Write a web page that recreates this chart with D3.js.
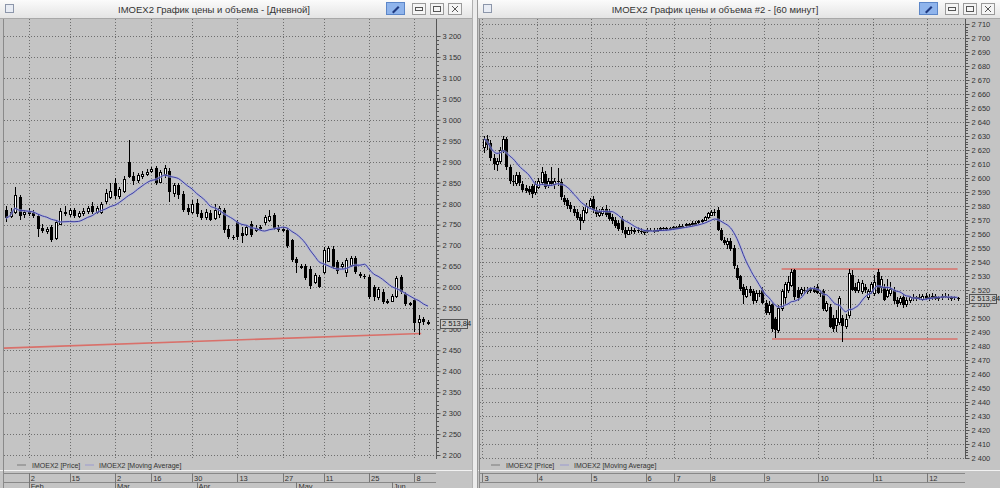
<!DOCTYPE html>
<html>
<head>
<meta charset="utf-8">
<script src="https://cdn.jsdelivr.net/npm/d3@7"></script>
<style>
body { margin: 0; background: #c4c4c4; }
svg { display: block; font-family: "Liberation Sans", Arial, sans-serif; }
</style>
</head>
<body>
<svg width="1000" height="488"></svg>
<script>
// ---- daily panel: [open, high, low, close]
const dailyCandles = [
  [2785,2795,2755,2765],[2770,2790,2765,2780],[2780,2840,2775,2820],[2815,2820,2760,2770],
  [2775,2785,2765,2780],[2780,2790,2770,2775],[2778,2785,2765,2770],[2770,2775,2720,2740],
  [2742,2752,2730,2735],[2735,2745,2728,2740],[2745,2750,2708,2715],[2718,2760,2712,2755],
  [2752,2790,2748,2782],[2780,2795,2770,2775],[2775,2790,2768,2785],[2785,2790,2765,2770],
  [2770,2783,2765,2778],[2778,2790,2770,2782],[2782,2795,2775,2790],[2795,2805,2775,2780],
  [2780,2795,2775,2790],[2780,2805,2775,2800],[2805,2835,2800,2825],[2815,2850,2810,2830],
  [2850,2862,2812,2818],[2818,2840,2812,2835],[2830,2865,2825,2858],[2900,2952,2860,2865],
  [2865,2875,2845,2852],[2855,2872,2850,2868],[2865,2878,2858,2870],[2870,2882,2865,2875],
  [2878,2888,2872,2882],[2885,2890,2845,2850],[2852,2880,2848,2875],[2870,2892,2862,2885],
  [2878,2885,2805,2828],[2825,2850,2815,2845],[2845,2850,2812,2820],[2822,2830,2780,2785],
  [2790,2800,2772,2780],[2780,2808,2775,2800],[2802,2810,2768,2775],[2778,2785,2760,2765],
  [2768,2788,2762,2780],[2778,2785,2758,2762],[2765,2800,2760,2785],[2775,2795,2765,2790],
  [2785,2790,2730,2738],[2740,2748,2715,2722],[2720,2725,2712,2718],[2755,2760,2712,2720],
  [2730,2745,2705,2722],[2728,2750,2722,2745],[2752,2758,2720,2725],[2738,2748,2732,2742],
  [2742,2750,2738,2745],[2755,2772,2750,2768],[2760,2785,2755,2770],[2772,2778,2738,2742],
  [2742,2748,2732,2738],[2738,2745,2732,2740],[2738,2742,2695,2700],[2712,2715,2660,2665],
  [2668,2672,2635,2658],[2648,2655,2645,2650],[2650,2655,2618,2622],[2645,2650,2595,2605],
  [2613,2635,2608,2630],[2625,2630,2598,2602],[2638,2697,2632,2690],[2665,2700,2660,2695],
  [2692,2698,2645,2650],[2660,2665,2632,2638],[2650,2660,2645,2655],[2637,2670,2625,2665],
  [2653,2675,2648,2670],[2670,2675,2632,2637],[2632,2636,2622,2628],[2628,2632,2620,2625],
  [2625,2630,2572,2577],[2600,2605,2568,2575],[2575,2600,2570,2595],[2590,2595,2560,2565],
  [2565,2572,2560,2568],[2568,2585,2565,2580],[2578,2628,2575,2622],[2625,2630,2585,2590],
  [2585,2590,2555,2560],[2560,2566,2555,2562],[2570,2575,2493,2515],[2518,2535,2486,2525],
  [2525,2530,2510,2518],[2518,2522,2510,2513.84]
];
const dailyDayIdx = [5, 14, 24, 32, 41, 51, 61, 70, 80, 90];
const dailyDayLabels = ["2", "15", "2", "16", "30", "13", "27", "11", "25", "8"];
const dailyMonthIdx = [5, 24, 42, 64, 85];
const dailyMonthLabels = ["Feb", "Mar", "Apr", "May", "Jun"];
const dailyPriceTicks = [2200,2250,2300,2350,2400,2450,2500,2550,2600,2650,2700,
  2750,2800,2850,2900,2950,3000,3050,3100,3150,3200];
const dailyTrend = [[-0.5, 2455], [91.5, 2490]];

// ---- hourly panel: [open, high, low, close]
const hourlyCandles = [
  // 3
  [2622,2630,2618,2628],[2628,2631,2620,2624],[2625,2627,2612,2614],[2614,2617,2606,2610],
  [2610,2614,2605,2612],[2612,2622,2610,2620],[2620,2630,2618,2628],[2628,2629,2606,2608],
  [2608,2609,2596,2598],[2598,2602,2594,2597],[2596,2604,2594,2602],[2602,2604,2594,2596],
  [2596,2598,2590,2592],[2593,2595,2589,2591],[2592,2594,2588,2590],[2594,2596,2586,2588],
  [2590,2598,2588,2596],
  // 4
  [2594,2600,2592,2598],[2597,2608,2595,2604],[2603,2605,2592,2594],[2595,2600,2593,2598],
  [2598,2608,2594,2596],[2596,2600,2592,2598],[2598,2607,2594,2597],[2597,2599,2584,2586],
  [2586,2588,2581,2583],[2584,2586,2578,2580],[2581,2583,2576,2578],[2578,2580,2573,2575],
  [2576,2578,2570,2572],[2572,2574,2563,2569],[2570,2579,2568,2577],[2576,2582,2574,2580],
  [2580,2586,2578,2584],
  // 5
  [2585,2587,2575,2577],[2577,2579,2572,2574],[2574,2578,2572,2576],[2575,2579,2573,2578],
  [2578,2581,2572,2574],[2576,2578,2569,2571],[2572,2574,2567,2569],[2570,2572,2564,2566],
  [2568,2570,2562,2564],[2571,2573,2561,2563],[2563,2565,2557,2560],[2560,2565,2559,2563],
  [2563,2565,2560,2562],[2562,2564,2560,2563],[2563,2565,2561,2562],[2562,2564,2560,2561],
  [2561,2563,2559,2562],
  // 6
  [2562,2564,2561,2563],[2563,2564,2562,2562],[2562,2564,2561,2563],[2563,2564,2562,2563],
  [2563,2565,2562,2564],[2564,2565,2562,2563],[2563,2565,2562,2564],[2564,2565,2563,2564],
  [2564,2566,2563,2565],
  // 7
  [2565,2566,2564,2565],[2565,2567,2564,2566],[2566,2567,2565,2566],[2566,2568,2565,2567],
  [2567,2568,2566,2567],[2567,2569,2566,2568],[2568,2569,2567,2568],[2568,2570,2567,2569],
  [2569,2571,2568,2570],[2570,2573,2569,2572],[2572,2576,2571,2575],
  // 8
  [2574,2577,2573,2576],[2576,2578,2573,2575],[2577,2579,2562,2563],[2563,2564,2555,2556],
  [2556,2558,2552,2554],[2553,2557,2549,2555],[2555,2557,2548,2549],[2550,2552,2535,2537],
  [2536,2538,2527,2529],[2530,2531,2519,2521],[2522,2524,2510,2516],[2516,2523,2514,2521],
  [2521,2523,2516,2518],[2519,2521,2510,2512],[2513,2520,2511,2518],[2518,2520,2515,2517],
  [2520,2522,2510,2511],
  // 9
  [2511,2513,2502,2504],[2504,2512,2502,2509],[2510,2511,2490,2492],[2499,2501,2486,2491],
  [2491,2509,2489,2507],[2507,2521,2505,2519],[2515,2526,2510,2524],[2520,2530,2518,2526],
  [2524,2535,2522,2533],[2534,2535,2513,2515],[2520,2522,2512,2514],[2518,2522,2516,2521],
  [2520,2522,2518,2519],[2519,2522,2517,2520],[2520,2522,2518,2521],[2521,2523,2518,2519],
  [2522,2524,2517,2518],
  // 10
  [2518,2520,2515,2517],[2519,2521,2505,2506],[2506,2512,2504,2511],[2508,2510,2493,2494],
  [2500,2502,2490,2492],[2495,2506,2490,2500],[2497,2516,2495,2514],[2500,2502,2483,2494],
  [2494,2503,2492,2499],[2502,2535,2500,2532],[2531,2534,2519,2520],[2522,2525,2518,2519],
  [2520,2528,2518,2526],[2519,2527,2517,2525],[2522,2524,2518,2520],[2515,2521,2513,2519],
  [2519,2526,2517,2524],
  // 11
  [2518,2531,2516,2526],[2533,2535,2517,2518],[2522,2530,2518,2528],[2522,2524,2512,2513],
  [2516,2528,2514,2520],[2518,2526,2516,2521],[2520,2522,2510,2512],[2513,2515,2508,2510],
  [2511,2516,2509,2514],[2515,2517,2507,2509],[2510,2515,2508,2513],[2513,2516,2511,2515],
  [2515,2517,2512,2514],[2514,2516,2512,2515],[2515,2517,2513,2514],[2514,2517,2512,2516],
  [2516,2518,2513,2514],
  // 12
  [2514,2517,2512,2515],[2515,2518,2513,2516],[2516,2517,2513,2514],[2514,2516,2512,2515],
  [2515,2517,2513,2516],[2516,2518,2514,2515],[2515,2517,2513,2514],[2514,2516,2512,2515],
  [2515,2516,2513,2514],[2514,2515,2512,2513.84]
];
const hourlyDayIdx = [0, 17, 34, 51, 60, 71, 88, 105, 122, 139];
const hourlyDayLabels = ["3", "4", "5", "6", "7", "8", "9", "10", "11", "12"];
const hourlyPriceTicks = [2400,2410,2420,2430,2440,2450,2460,2470,2480,2490,2500,2510,
  2520,2530,2540,2550,2560,2570,2580,2590,2600,2610,2620,2630,2640,2650,2660,2670,2680,
  2690,2700,2710];
const hourlyLevels = [[[93, 2535], [148, 2535]], [[90, 2485], [148, 2485]]];

const maPeriod = 10;
const lastPrice = "2 513,84";

const svg = d3.select("svg");
const fmt = d => d3.format(",")(d).replace(",", " ");

function sma(data, n) {
  return data.map((d, i) => d3.mean(data.slice(Math.max(0, i - n + 1), i + 1), c => c[3]));
}

function panel(o) {
  const g = svg.append("g");
  // window body
  g.append("rect").attr("x", o.wx).attr("y", 0).attr("width", o.ww).attr("height", 488)
    .attr("fill", "#c4c4c4");

  const x = d3.scaleLinear().domain([0, o.data.length - 1]).range([o.x0, o.x1]);
  const y = d3.scaleLinear().domain(o.yDomain).range(o.yRange);
  const step = x(1) - x(0);

  const clipId = "clip" + o.wx;
  g.append("clipPath").attr("id", clipId).append("rect")
    .attr("x", o.left).attr("y", o.top).attr("width", o.axisX - o.left).attr("height", o.bottom - o.top);
  const plot = g.append("g").attr("clip-path", `url(#${clipId})`);

  // grid
  plot.selectAll("line.hg").data(o.priceTicks).join("line")
    .attr("x1", o.left).attr("x2", o.axisX)
    .attr("y1", d => Math.round(y(d)) + 0.5).attr("y2", d => Math.round(y(d)) + 0.5)
    .attr("stroke", "#6e6e6e").attr("stroke-dasharray", "1,2").attr("shape-rendering", "crispEdges");
  plot.selectAll("line.vg").data(o.dayIdx).join("line")
    .attr("x1", d => Math.round(x(d - o.tickShift)) + 0.5).attr("x2", d => Math.round(x(d - o.tickShift)) + 0.5)
    .attr("y1", o.top).attr("y2", o.bottom)
    .attr("stroke", "#6e6e6e").attr("stroke-dasharray", "1,2").attr("shape-rendering", "crispEdges");

  // levels (red)
  o.levels.forEach(l => {
    plot.append("line")
      .attr("x1", x(l[0][0])).attr("y1", y(l[0][1]))
      .attr("x2", x(l[1][0])).attr("y2", y(l[1][1]))
      .attr("stroke", "#d9706a").attr("stroke-width", 1.6);
  });

  // candles
  const bw = o.bodyW;
  const c = plot.selectAll("g.c").data(o.data).join("g");
  c.append("line")
    .attr("x1", (d, i) => Math.round(x(i)) + 0.5).attr("x2", (d, i) => Math.round(x(i)) + 0.5)
    .attr("y1", d => Math.round(y(d[1]))).attr("y2", d => Math.round(y(d[2])))
    .attr("stroke", "#000").attr("shape-rendering", "crispEdges");
  c.append("rect")
    .attr("x", (d, i) => Math.round(x(i)) - Math.floor(bw / 2) + (d[3] >= d[0] ? 0.5 : 0))
    .attr("y", d => Math.round(y(Math.max(d[0], d[3]))) + (d[3] >= d[0] ? 0.5 : 0))
    .attr("width", d => d[3] >= d[0] ? bw - 1 : bw)
    .attr("height", d => Math.max(1, Math.round(Math.abs(y(d[0]) - y(d[3])))))
    .attr("fill", d => d[3] >= d[0] ? "#fff" : "#000")
    .attr("stroke", d => d[3] >= d[0] ? "#000" : "none")
    .attr("shape-rendering", "crispEdges");

  // moving average
  const ma = sma(o.data, maPeriod);
  const line = d3.line().x((d, i) => x(i)).y(d => y(d)).curve(d3.curveMonotoneX);
  plot.append("path").datum(ma).attr("d", line).attr("fill", "none")
    .attr("stroke", "#aab0e0").attr("stroke-width", 2.6).attr("opacity", 0.6);
  plot.append("path").datum(ma).attr("d", line).attr("fill", "none")
    .attr("stroke", "#3c3ca0").attr("stroke-width", 1);

  // y axis
  const yAxis = d3.axisRight(y).tickValues(o.priceTicks).tickSize(4).tickPadding(2).tickFormat(fmt);
  const ya = g.append("g").attr("transform", `translate(${o.axisX + 0.5},0)`).call(yAxis);
  ya.select(".domain").attr("d", `M0,${o.top}V${o.bottom}`).attr("stroke", "#555");
  ya.selectAll(".tick line").attr("stroke", "#555");
  ya.selectAll(".tick text").attr("font-size", 7.5).attr("fill", "#333")
    .attr("font-family", "Liberation Sans, Arial, sans-serif");
  const minor = d3.range(o.yDomain[0], o.yDomain[1] + 0.001, o.minorStep);
  ya.selectAll("line.mn").data(minor).join("line")
    .attr("x1", 0).attr("x2", 2).attr("y1", d => Math.round(y(d)) + 0.5).attr("y2", d => Math.round(y(d)) + 0.5)
    .attr("stroke", "#555").attr("shape-rendering", "crispEdges");

  // last price box
  const ly = y(o.data[o.data.length - 1][3]);
  g.append("rect").attr("x", o.axisX + 4.5).attr("y", Math.round(ly) - 4.5).attr("width", 27).attr("height", 9)
    .attr("fill", "#c8c8c8").attr("stroke", "#555");
  g.append("text").attr("x", o.axisX + 6).attr("y", ly + 2.7).attr("font-size", 7.5).attr("fill", "#222")
    .text(lastPrice);

  // legend
  const lg = g.append("g").attr("transform", `translate(${o.legendX},465)`);
  lg.append("line").attr("x1", 0).attr("x2", 9).attr("y1", 0).attr("y2", 0).attr("stroke", "#7a7a7a");
  lg.append("text").attr("x", 15).attr("y", 2.5).attr("font-size", 7).attr("fill", "#333").text("IMOEX2 [Price]");
  lg.append("line").attr("x1", o.legend2).attr("x2", o.legend2 + 9).attr("y1", 0).attr("y2", 0).attr("stroke", "#9a9ad0");
  lg.append("text").attr("x", o.legend2 + 14).attr("y", 2.5).attr("font-size", 7).attr("fill", "#333")
    .text("IMOEX2 [Moving Average]");

  // x axis band
  g.append("line").attr("x1", o.wx).attr("x2", o.wx + o.ww).attr("y1", 470.5).attr("y2", 470.5).attr("stroke", "#f2f2f2");
  g.append("line").attr("x1", o.left).attr("x2", o.axisX).attr("y1", 473.5).attr("y2", 473.5).attr("stroke", "#888");
  g.append("line").attr("x1", o.left).attr("x2", o.axisX).attr("y1", 482.5).attr("y2", 482.5).attr("stroke", "#888");
  const xa = g.append("g");
  xa.selectAll("line").data(o.dayIdx).join("line")
    .attr("x1", d => Math.round(x(d - o.tickShift)) + 0.5).attr("x2", d => Math.round(x(d - o.tickShift)) + 0.5)
    .attr("y1", 473).attr("y2", 482).attr("stroke", "#777");
  xa.selectAll("text").data(o.dayLabels).join("text")
    .attr("x", (d, i) => x(o.dayIdx[i] - o.tickShift) + 2).attr("y", 480.5)
    .attr("font-size", 7.5).attr("fill", "#333").text(d => d);
  if (o.monthIdx) {
    const mg = g.append("g");
    mg.selectAll("line").data(o.monthIdx).join("line")
      .attr("x1", d => Math.round(x(d)) + 0.5).attr("x2", d => Math.round(x(d)) + 0.5)
      .attr("y1", 482).attr("y2", 488).attr("stroke", "#777");
    mg.selectAll("text").data(o.monthLabels).join("text")
      .attr("x", (d, i) => x(o.monthIdx[i]) + 2).attr("y", 489)
      .attr("font-size", 7.5).attr("fill", "#333").text(d => d);
  }

  // frame
  g.append("line").attr("x1", o.left - 0.5).attr("x2", o.left - 0.5).attr("y1", o.top).attr("y2", 488).attr("stroke", "#8a8a8a");

  // title bar
  const tb = g.append("g");
  const grad = g.append("linearGradient").attr("id", "tg" + o.wx).attr("x1", 0).attr("x2", 0).attr("y1", 0).attr("y2", 1);
  grad.append("stop").attr("offset", 0).attr("stop-color", "#fbfbfb");
  grad.append("stop").attr("offset", 1).attr("stop-color", "#e4e4e4");
  tb.append("rect").attr("x", o.wx).attr("y", 0).attr("width", o.ww).attr("height", 18).attr("fill", `url(#tg${o.wx})`);
  tb.append("line").attr("x1", o.wx).attr("x2", o.wx + o.ww).attr("y1", 18.5).attr("y2", 18.5).attr("stroke", "#a8a8a8");
  tb.append("rect").attr("x", o.wx + 5.5).attr("y", 4.5).attr("width", 8).attr("height", 8)
    .attr("fill", "#e8ecf4").attr("stroke", "#8c96aa");
  tb.append("text").attr("x", o.titleX).attr("y", 12.5).attr("text-anchor", "middle").attr("font-size", 9.5)
    .attr("fill", "#333").text(o.title);
  const bx = o.btnX;
  tb.append("rect").attr("x", bx + 0.5).attr("y", 2.5).attr("width", 18).attr("height", 12)
    .attr("fill", "#8fb4ec").attr("stroke", "#5c86c8");
  tb.append("path").attr("d", `M${bx + 6},${12}L${bx + 12},${6}L${bx + 13.5},${7.5}L${bx + 7.5},${13.5}Z`)
    .attr("fill", "#203a80");
  [0, 1, 2].forEach(k => {
    const x0 = bx + 26 + k * 18;
    tb.append("rect").attr("x", x0 + 0.5).attr("y", 3.5).attr("width", 13).attr("height", 11)
      .attr("fill", "#f4f4f4").attr("stroke", "#9a9a9a");
    if (k === 0) tb.append("rect").attr("x", x0 + 3.5).attr("y", 7.5).attr("width", 7).attr("height", 3).attr("fill", "none").attr("stroke", "#555");
    if (k === 1) tb.append("rect").attr("x", x0 + 3.5).attr("y", 6.5).attr("width", 7).attr("height", 5).attr("fill", "none").attr("stroke", "#555");
    if (k === 2) tb.append("path").attr("d", `M${x0 + 4},${6}L${x0 + 10},${12}M${x0 + 10},${6}L${x0 + 4},${12}`).attr("stroke", "#555");
  });
}

panel({
  wx: 0, ww: 472, left: 4, top: 19, bottom: 459, axisX: 436,
  x0: 6, x1: 428, yDomain: [2200, 3200], yRange: [455, 36],
  data: dailyCandles, priceTicks: dailyPriceTicks, minorStep: 10, bodyW: 3,
  dayIdx: dailyDayIdx, dayLabels: dailyDayLabels, tickShift: 0,
  monthIdx: dailyMonthIdx, monthLabels: dailyMonthLabels,
  levels: [dailyTrend], legendX: 17, legend2: 68,
  title: "IMOEX2 График цены и объема - [Дневной]", titleX: 214, btnX: 386
});

panel({
  wx: 478, ww: 522, left: 480, top: 19, bottom: 459, axisX: 965,
  x0: 484, x1: 484 + 3.2 * (hourlyCandles.length - 1), yDomain: [2400, 2710], yRange: [458, 24],
  data: hourlyCandles, priceTicks: hourlyPriceTicks, minorStep: 2, bodyW: 3,
  dayIdx: hourlyDayIdx, dayLabels: hourlyDayLabels, tickShift: 0.5,
  levels: hourlyLevels, legendX: 491, legend2: 69,
  title: "IMOEX2 График цены и объема #2 - [60 минут]", titleX: 715, btnX: 919
});

// separator between windows
svg.append("rect").attr("x", 472).attr("y", 0).attr("width", 6).attr("height", 488).attr("fill", "#ececec");
svg.append("line").attr("x1", 477.5).attr("x2", 477.5).attr("y1", 0).attr("y2", 488).attr("stroke", "#9a9a9a");
svg.append("line").attr("x1", 472.5).attr("x2", 472.5).attr("y1", 0).attr("y2", 488).attr("stroke", "#b0b0b0");
</script>
</body>
</html>
